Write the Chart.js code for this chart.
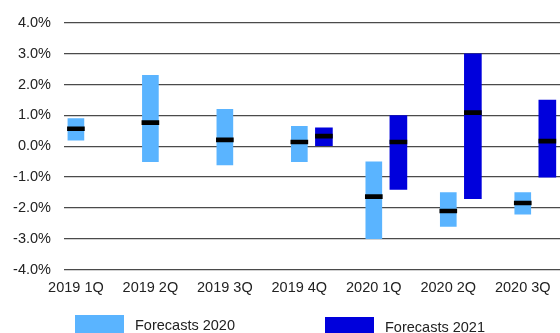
<!DOCTYPE html>
<html>
<head>
<meta charset="utf-8">
<script src="https://cdn.jsdelivr.net/npm/chart.js@4"></script>
<style>
  html, body { margin: 0; padding: 0; background: #fff; overflow: hidden; }
  #wrap { position: relative; width: 560px; height: 333px; }
  #legend { position: absolute; left: 0; top: 0; width: 560px; height: 333px; pointer-events: none; }
  .item { position: absolute; height: 20px; font: 14.5px "Liberation Sans", Arial, sans-serif; color: #222; white-space: nowrap; }
  .item span.box { position: absolute; left: 0; top: 0; width: 49px; height: 20px; }
  .item span.txt { position: absolute; left: 60px; top: 1px; line-height: 18px; }
</style>
</head>
<body>
<div id="wrap">
  <canvas id="myChart"></canvas>
  <div id="legend"></div>
</div>
<script>
// quarters on the x axis
const quarters = ['2019 1Q', '2019 2Q', '2019 3Q', '2019 4Q', '2020 1Q', '2020 2Q', '2020 3Q'];

// forecast ranges (low, high) and medians, in %
const low2020 = [0.2, -0.5, -0.6, -0.5, -3.0, -2.6, -2.2];
const high2020 = [0.9, 2.3, 1.2, 0.65, -0.5, -1.5, -1.5];
const med2020 = [0.57, 0.77, 0.21, 0.14, -1.63, -2.1, -1.84];

const low2021 = [null, null, null, 0.0, -1.4, -1.7, -1.0];
const high2021 = [null, null, null, 0.6, 1.0, 3.0, 1.5];
const med2021 = [null, null, null, 0.33, 0.14, 1.09, 0.17];

const yTicks = [-4, -3, -2, -1, 0, 1, 2, 3, 4];

// 2021 bars sit a bit right of the quarter tick
const shift = 0.33;
// half height of the median marker, in % units
const medHalf = 0.065;

const range2020 = quarters.map((q, i) => ({ x: i, y: [low2020[i], high2020[i]] }));
const range2021 = quarters.map((q, i) => ({ x: i + shift, y: [low2021[i], high2021[i]] }))
  .filter((d, i) => low2021[i] !== null);
const mid2020 = quarters.map((q, i) => ({ x: i, y: [med2020[i] - medHalf, med2020[i] + medHalf] }));
const mid2021 = quarters.map((q, i) => ({ x: i + shift, y: [med2021[i] - medHalf, med2021[i] + medHalf] }))
  .filter((d, i) => med2021[i] !== null);

Chart.defaults.font.family = '"Liberation Sans", Arial, sans-serif';
Chart.defaults.font.size = 14.5;
Chart.defaults.color = '#222';

const chart = new Chart(document.getElementById('myChart'), {
  type: 'bar',
  data: {
    datasets: [
      { label: 'median2020', data: mid2020, backgroundColor: '#000', barThickness: 17, grouped: false, order: 0 },
      { label: 'median2021', data: mid2021, backgroundColor: '#000', barThickness: 17, grouped: false, order: 0 },
      {
        label: 'Forecasts 2020',
        data: range2020,
        backgroundColor: '#5AB4FF',
        barThickness: 16,
        grouped: false,
        order: 1
      },
      {
        label: 'Forecasts 2021',
        data: range2021,
        backgroundColor: '#0000DC',
        barThickness: 17,
        grouped: false,
        order: 1
      }
    ]
  },
  options: {
    responsive: true,
    maintainAspectRatio: false,
    animation: false,
    layout: { padding: { top: 23, left: 0, right: 0, bottom: 26 } },
    scales: {
      x: {
        type: 'linear',
        offset: false,
        min: -0.16,
        max: 6.5,
        grid: { display: false, drawTicks: false, offset: false },
        border: { display: false },
        afterFit: s => { s.paddingLeft = 0; s.paddingRight = 0 },
        ticks: {
          stepSize: 1,
          includeBounds: false,
          padding: 10,
          color: '#222',
          maxRotation: 0,
          callback: v => quarters[v] || ''
        }
      },
      y: {
        min: -4,
        max: 4,
        afterBuildTicks: axis => { axis.ticks = yTicks.map(v => ({ value: v })) },
        afterFit: s => { s.width = 64 },
        grid: { color: '#4a4a4a', lineWidth: 1.3, drawTicks: false },
        border: { display: false },
        ticks: {
          padding: 13,
          color: '#222',
          callback: v => v.toFixed(1) + '%'
        }
      }
    },
    plugins: {
      tooltip: { enabled: false },
      legend: { display: false }
    }
  }
});

// html legend under the plot
const legendPos = [{ left: 75, top: 315 }, { left: 325, top: 317 }];
const legendEl = document.getElementById('legend');
chart.data.datasets.filter(d => d.label.indexOf('Forecasts') === 0).forEach((d, i) => {
  const item = document.createElement('div');
  item.className = 'item';
  item.style.left = legendPos[i].left + 'px';
  item.style.top = legendPos[i].top + 'px';
  item.innerHTML = '<span class="box" style="background:' + d.backgroundColor + '"></span><span class="txt">' + d.label + '</span>';
  legendEl.appendChild(item);
});
</script>
</body>
</html>
